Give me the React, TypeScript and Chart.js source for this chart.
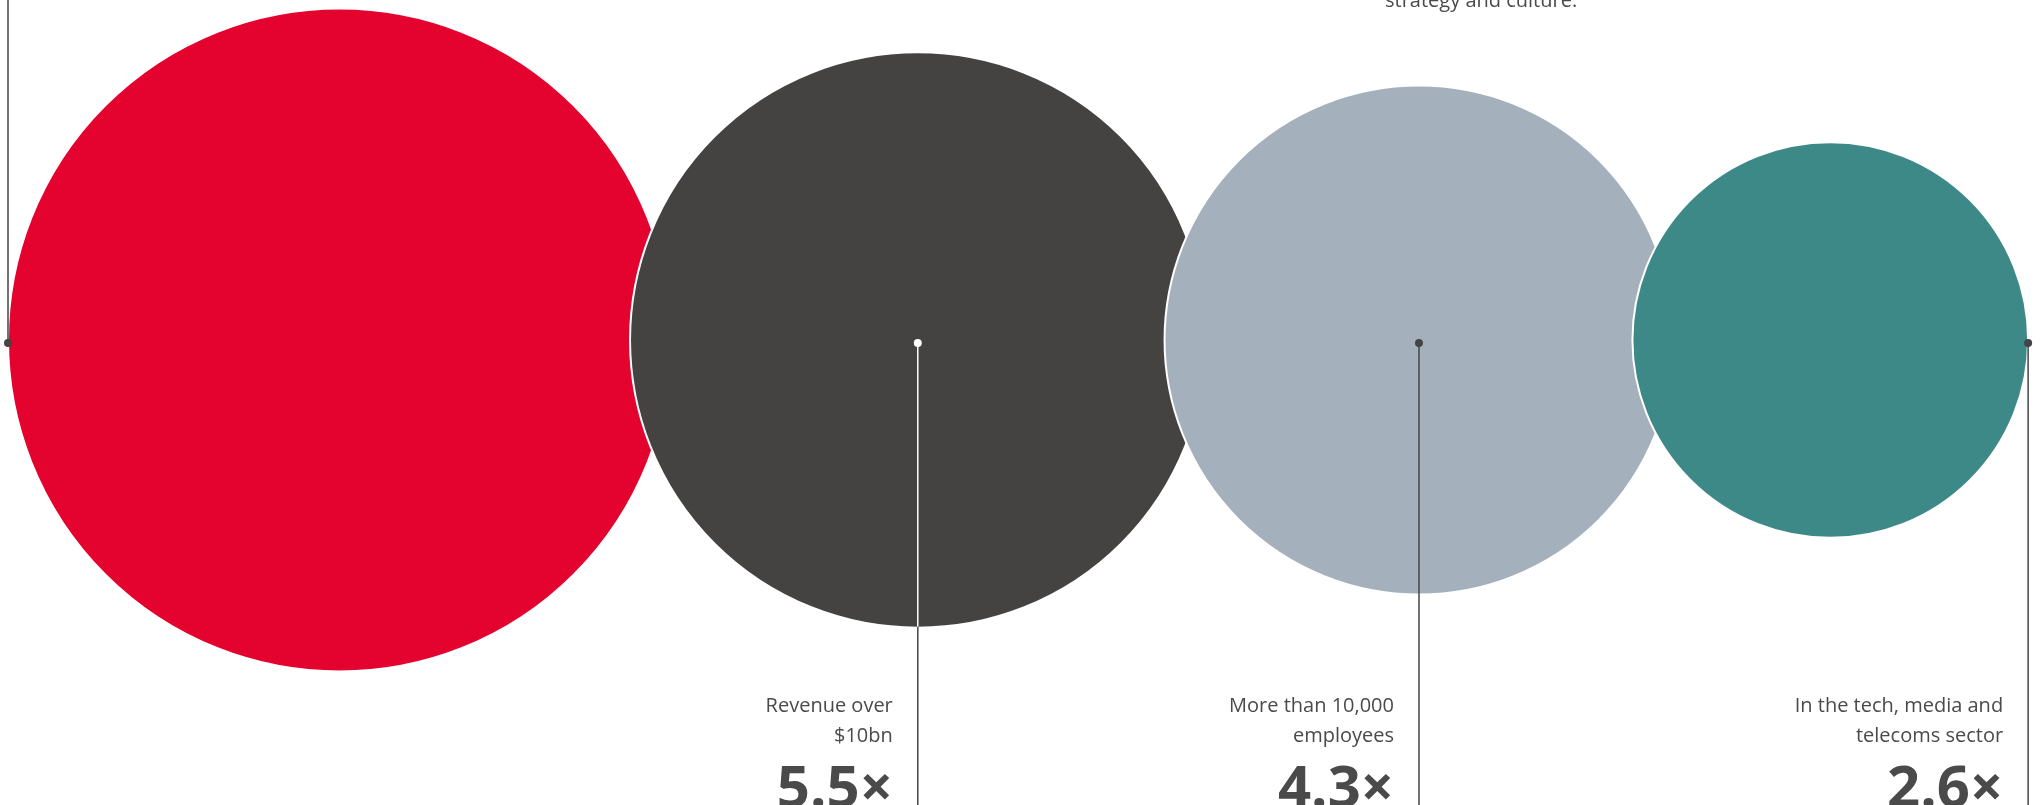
import React, { useEffect, useRef } from 'react';
import { Chart, registerables } from 'chart.js';

Chart.register(...registerables);

// ---- data ----
const categories = ['Overall', 'Revenue over $10bn', 'More than 10,000 employees', 'In the tech, media and telecoms sector'];
const labelLines: string[][] = [
  [],
  ['Revenue over', '$10bn'],
  ['More than 10,000', 'employees'],
  ['In the tech, media and', 'telecoms sector'],
];
const multipliers = [7.3, 5.5, 4.3, 2.6];
const colors = ['#e4032e', '#444341', '#a4b0bc', '#3d8987'];
const anchors = ['left', 'center', 'center', 'right'];
const innerLineColors = ['#444444', '#ffffff', '#444444', '#444444'];
const topNote = 'strategy and culture.';

// ---- layout / style ----
const W = 2044;
const H = 805;
const K = 122.7; // px per sqrt(unit) — bubble area proportional to value
const LEFT = 8;
const OVERLAP = 41;
const TEXT = '#4a4a4a';
const LINE = '#444444';
const FONT = '"Open Sans", "Noto Sans", sans-serif';

const radii = multipliers.map((v) => K * Math.sqrt(v));
const xs: number[] = [];
radii.forEach((r, i) => {
  if (i === 0) xs.push(LEFT + r);
  else xs.push(xs[i - 1] + radii[i - 1] + r - OVERLAP);
});
const points = radii.map((r, i) => ({ x: xs[i], y: 0, r }));

const annotations = {
  id: 'annotations',
  afterDatasetsDraw(chart: any) {
    const ctx = chart.ctx as CanvasRenderingContext2D;
    const meta = chart.getDatasetMeta(0);
    ctx.save();
    meta.data.forEach((el: any, i: number) => {
      const { x, y } = el.getProps(['x', 'y'], true);
      const r = radii[i];
      const ax = anchors[i] === 'left' ? x - r : anchors[i] === 'right' ? x + r : x;
      const ay = y + 3;
      ctx.lineWidth = 1.5;
      ctx.strokeStyle = LINE;
      ctx.beginPath();
      ctx.moveTo(ax, ay);
      ctx.lineTo(ax, i === 0 ? 0 : H);
      ctx.stroke();
      if (anchors[i] === 'center' && innerLineColors[i] !== LINE) {
        ctx.strokeStyle = innerLineColors[i];
        ctx.beginPath();
        ctx.moveTo(ax, ay);
        ctx.lineTo(ax, y + r - 1);
        ctx.stroke();
      }
      ctx.fillStyle = anchors[i] === 'center' ? innerLineColors[i] : LINE;
      ctx.beginPath();
      ctx.arc(ax, ay, 4, 0, Math.PI * 2);
      ctx.fill();

      if (i > 0) {
        const tx = ax - 25;
        ctx.fillStyle = TEXT;
        ctx.textAlign = 'right';
        ctx.textBaseline = 'alphabetic';
        ctx.font = `20px ${FONT}`;
        labelLines[i].forEach((ln, j) => ctx.fillText(ln, tx, 712 + j * 30));
        ctx.font = `bold 58px ${FONT}`;
        ctx.fillText(`${multipliers[i]}×`, tx, 807);
      }
    });
    ctx.fillStyle = TEXT;
    ctx.textAlign = 'left';
    ctx.font = `20px ${FONT}`;
    ctx.fillText(topNote, 1385, 7);
    ctx.restore();
  },
};

export default function App() {
  const ref = useRef<HTMLCanvasElement>(null);
  useEffect(() => {
    if (!ref.current) return;
    const chart = new Chart(ref.current, {
      type: 'bubble',
      data: {
        labels: categories,
        datasets: [
          {
            label: 'Likelihood multiplier',
            data: points,
            backgroundColor: colors,
            borderColor: '#ffffff',
            borderWidth: 2,
            clip: false,
          } as any,
        ],
      },
      options: {
        animation: false,
        responsive: false,
        devicePixelRatio: 1,
        events: [],
        layout: { autoPadding: false, padding: { top: 0, left: 0, right: 0, bottom: 125 } },
        scales: {
          x: { type: 'linear', display: false, min: 0, max: W },
          y: { type: 'linear', display: false, min: -1, max: 1 },
        },
        plugins: { legend: { display: false }, tooltip: { enabled: false } },
      } as any,
      plugins: [annotations],
    });
    document.fonts?.ready.then(() => chart.draw());
    return () => chart.destroy();
  }, []);
  return (
    <div style={{ position: 'fixed', left: 0, top: 0, width: W, height: H, background: '#fff', overflow: 'hidden' }}>
      <canvas ref={ref} width={W} height={H} style={{ width: W, height: H, display: 'block' }} />
    </div>
  );
}
